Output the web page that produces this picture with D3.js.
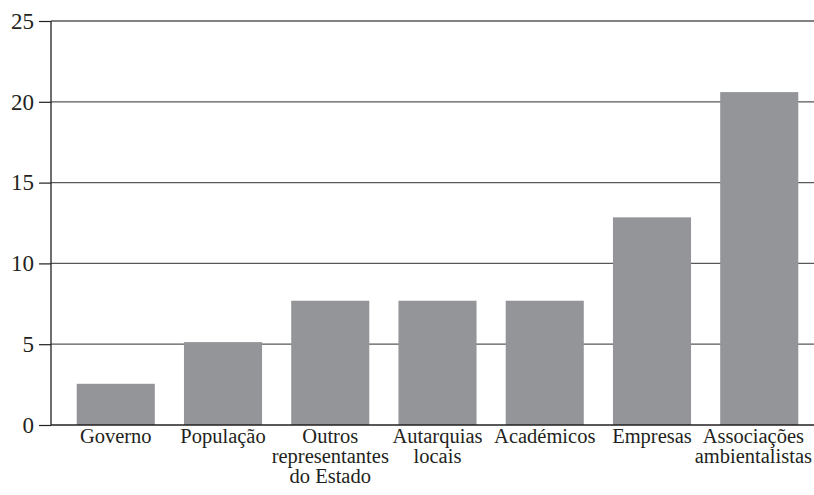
<!DOCTYPE html>
<html><head><meta charset="utf-8">
<script src="https://cdn.jsdelivr.net/npm/d3@7"></script>
<style>body{margin:0;background:#fff}svg{display:block}</style>
</head><body><svg id="c" width="814" height="495"></svg>
<script>
const categories = ["Governo","População","Outros representantes do Estado","Autarquias locais","Académicos","Empresas","Associações ambientalistas"];
const labelLines = [["Governo"],["População"],["Outros","representantes","do Estado"],["Autarquias","locais"],["Académicos"],["Empresas"],["Associações","ambientalistas"]];
const values = [2.55, 5.13, 7.69, 7.69, 7.69, 12.85, 20.6];
const yTicks = [0,5,10,15,20,25];

const svg = d3.select("#c");
const axisX = 51, right = 814, y0 = 425, yTop = 21;
const x = d3.scaleBand().domain(categories).range([66, 809]).paddingInner(0.272).paddingOuter(0.1);
const y = d3.scaleLinear().domain([0,25]).range([y0, yTop]);
const font = "Liberation Serif, Tinos, Times New Roman, DejaVu Serif, serif";
const ink = "#231f20";

svg.append("g").selectAll("line").data(yTicks.filter(d=>d>0)).join("line")
  .attr("x1", axisX).attr("x2", right)
  .attr("y1", d=>y(d)).attr("y2", d=>y(d))
  .attr("stroke", "#58595b").attr("stroke-width", 1.3);

svg.append("g").selectAll("rect").data(values).join("rect")
  .attr("x", (d,i)=>x(categories[i])).attr("width", x.bandwidth())
  .attr("y", d=>y(d)).attr("height", d=>y0 - y(d))
  .attr("fill", "#939598");

const yAxis = d3.axisLeft(y).tickValues(yTicks).tickSize(12).tickPadding(5).tickFormat(d3.format("d"));
const gy = svg.append("g").attr("transform", `translate(${axisX},0)`).call(yAxis)
  .attr("font-family", null).attr("font-size", null);
gy.select(".domain").remove();
gy.selectAll(".tick line").attr("stroke", ink).attr("stroke-width", 1.2);
gy.selectAll(".tick text").style("font-family", font).style("font-size", "23px").attr("fill", ink);
svg.append("line").attr("x1", axisX).attr("x2", axisX).attr("y1", y(25)).attr("y2", y0)
  .attr("stroke", ink).attr("stroke-width", 1.3);
svg.append("line").attr("x1", axisX).attr("x2", right).attr("y1", y0).attr("y2", y0)
  .attr("stroke", ink).attr("stroke-width", 1.3);

const gx = svg.append("g");
categories.forEach((c,i)=>{
  const cx = x(c)+x.bandwidth()/2;
  const t = gx.append("text").attr("x", cx).attr("y", 443)
    .attr("text-anchor","middle").style("font-family", font).style("font-size", "20.5px").attr("fill", ink);
  const spans = labelLines[i].map((ln,j)=>
    t.append("tspan").attr("x", cx).attr("dy", j===0?0:20).text(ln));
  const maxW = d3.max(spans, s=>s.node().getComputedTextLength());
  if (cx + maxW/2 > 812) {
    const nx = 812 - maxW/2;
    t.attr("x", nx); spans.forEach(s=>s.attr("x", nx));
  }
});
</script></body></html>
